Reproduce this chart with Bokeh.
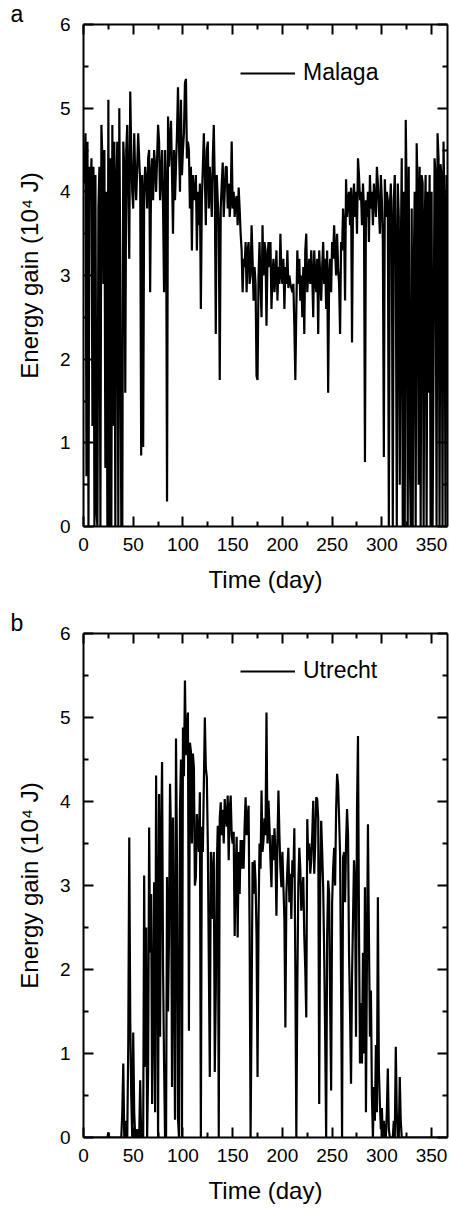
from bokeh.plotting import figure
from bokeh.layouts import column
from bokeh.models import LinearAxis, FixedTicker, Range1d
from bokeh.embed import file_html
from bokeh.resources import INLINE

DAYS = list(range(1, 366))

MALAGA = [
    4.1, 4.7, 0.6, 4.6, 0.0, 4.3, 3.9, 4.4, 1.2, 4.3,
    0.0, 4.2, 0.2, 0.0, 3.8, 4.3, 0.0, 4.8, 4.4, 2.9,
    4.5, 0.7, 4.0, 0.0, 5.1, 0.0, 4.4, 0.0, 4.8, 1.2,
    4.6, 0.0, 4.1, 4.6, 0.0, 5.0, 3.0, 0.0, 0.0, 4.6,
    4.3, 1.6, 4.5, 4.8, 4.0, 3.2, 5.2, 4.5, 4.0, 3.8,
    4.7, 4.2, 3.9, 4.3, 4.7, 4.4, 4.1, 0.85, 4.2, 0.95,
    4.0, 4.3, 4.1, 3.8, 4.4, 4.5, 2.8, 4.2, 4.4, 3.9,
    4.5, 4.3, 4.0, 4.4, 4.8, 4.6, 3.9, 4.2, 4.5, 3.8,
    2.8, 4.5, 4.1, 0.3, 4.9, 4.3, 4.6, 4.85, 4.2, 3.5,
    4.5, 3.9, 4.3, 4.7, 5.25, 4.6, 4.0, 5.1, 4.2, 4.5,
    4.7, 5.3, 5.35, 4.4, 4.6, 4.5, 3.8, 4.3, 3.3, 4.2,
    4.0, 3.9, 4.2, 3.3, 4.0, 3.6, 4.1, 2.6, 3.9, 4.3,
    4.7, 4.2, 3.6, 4.5, 4.6, 3.8, 4.3, 4.0, 3.7, 4.4,
    4.8, 4.1, 2.3, 4.2, 3.9, 3.6, 1.75, 3.8, 4.1, 4.35,
    3.7, 4.0, 4.3, 4.3, 3.8, 4.1, 3.7, 3.9, 4.6, 3.8,
    4.0, 3.7, 3.9, 3.95, 3.6, 4.05, 3.8, 3.5, 3.3, 2.8,
    3.2, 3.1, 3.4, 2.8, 3.3, 3.4, 2.9, 3.0, 3.6, 3.2,
    2.7, 3.1, 2.9, 1.8, 1.75, 3.0, 3.4, 2.9, 2.5, 3.6,
    3.0, 3.4, 3.3, 2.4, 3.2, 3.4, 3.1, 3.4, 2.6, 3.0,
    3.2, 2.8, 3.0, 3.3, 2.7, 3.1, 2.9, 3.5, 3.0, 2.9,
    3.2, 2.6, 3.1, 2.9, 3.3, 2.85, 3.0, 2.9, 2.85, 2.8,
    2.9, 2.4, 1.75, 2.6, 3.3, 2.9, 3.2, 2.7, 3.0, 2.5,
    3.1, 2.3, 3.3, 3.5, 2.8, 3.0, 3.2, 2.9, 3.3, 3.0,
    2.5, 3.3, 3.0, 2.8, 3.2, 2.3, 3.3, 3.0, 2.7, 3.1,
    3.4, 2.9, 3.2, 2.6, 3.3, 1.6, 3.0, 3.2, 2.8, 3.4,
    3.2, 3.6, 3.3, 3.0, 3.5, 3.1, 2.9, 2.3, 3.4, 3.3,
    3.8, 3.6, 2.7, 4.15, 3.7, 3.9, 4.0, 3.6, 4.05, 2.2,
    3.9, 4.1, 3.7, 4.0, 3.5, 4.4, 4.2, 3.9, 4.0, 3.6,
    4.1, 3.8, 0.77, 3.9, 3.7, 4.0, 3.4, 4.2, 3.8, 4.0,
    3.6, 4.1, 3.9, 3.7, 4.3, 4.1, 3.8, 3.5, 4.2, 3.9,
    3.4, 0.83, 4.15, 3.7, 4.0, 3.9, 0.0, 3.8, 4.1, 3.6,
    0.0, 3.9, 4.2, 3.3, 0.0, 4.1, 3.7, 0.5, 3.2, 4.4,
    0.0, 4.0, 0.0, 4.86, 3.9, 0.0, 4.3, 1.0, 0.0, 3.8,
    0.0, 3.0, 4.0, 0.0, 4.58, 4.0, 0.5, 4.3, 0.0, 4.2,
    4.1, 0.0, 3.6, 4.2, 0.0, 4.0, 1.6, 4.2, 0.0, 4.0,
    0.0, 2.0, 4.4, 4.2, 0.0, 4.7, 4.4, 0.0, 4.33, 4.2,
    0.0, 4.6, 3.7, 0.0, 4.2,
]

UTRECHT = [
    0.0, 0.0, 0.0, 0.0, 0.0, 0.0, 0.0, 0.0, 0.0, 0.0,
    0.0, 0.0, 0.0, 0.0, 0.0, 0.0, 0.0, 0.0, 0.0, 0.0,
    0.0, 0.0, 0.0, 0.0, 0.06, 0.0, 0.0, 0.0, 0.0, 0.0,
    0.0, 0.0, 0.0, 0.0, 0.0, 0.0, 0.0, 0.0, 0.3, 0.88,
    0.0, 0.2, 0.0, 0.0, 1.1, 3.57, 1.4, 0.5, 0.0, 1.25,
    0.3, 0.0, 0.0, 0.1, 0.0, 0.0, 0.68, 0.0, 0.2, 0.0,
    3.12, 0.84, 2.5, 0.0, 0.8, 3.69, 2.2, 2.9, 0.4, 1.5,
    3.04, 0.3, 4.31, 2.6, 0.0, 4.09, 1.2, 3.5, 4.47, 2.0,
    0.9, 0.0, 0.0, 3.1, 1.5, 2.4, 4.21, 3.6, 0.6, 3.81,
    2.1, 0.21, 4.75, 3.3, 0.24, 0.0, 3.9, 4.5, 0.0, 4.88,
    4.3, 5.44, 4.55, 4.8, 5.06, 1.27, 4.7, 4.6, 3.5, 4.57,
    4.4, 3.0, 3.1, 3.85, 3.6, 3.4, 4.11, 0.0, 3.7, 3.4,
    4.2, 5.0, 4.4, 4.29, 3.5, 2.1, 0.72, 3.4, 3.2, 2.6,
    3.4, 0.78, 1.7, 3.2, 3.71, 0.0, 3.8, 3.99, 3.6, 3.9,
    3.5, 4.03, 3.8, 3.7, 4.07, 3.3, 3.9, 4.07, 3.6, 3.5,
    3.64, 2.4, 3.2, 3.58, 2.38, 3.4, 2.9, 3.54, 3.2, 3.54,
    3.2, 3.7, 4.05, 3.6, 3.8, 3.95, 2.5, 0.0, 1.5, 3.28,
    2.9, 3.3, 3.06, 2.4, 0.72, 2.6, 3.5, 3.2, 4.13, 3.4,
    3.54, 3.8, 3.6, 5.06, 3.5, 4.01, 3.7, 3.3, 2.98, 3.6,
    3.3, 3.68, 3.4, 2.64, 3.5, 4.13, 3.6, 3.2, 2.98, 3.4,
    3.0, 2.6, 1.31, 2.9, 3.2, 3.45, 2.8, 3.14, 2.6, 3.3,
    3.1, 3.68, 2.0, 0.0, 1.8, 3.0, 3.45, 3.2, 2.7, 2.94,
    3.1, 2.4, 2.0, 1.43, 3.79, 3.3, 3.5, 3.14, 3.3, 3.6,
    4.01, 3.14, 3.5, 4.05, 4.03, 3.8, 0.4, 3.0, 3.77, 3.4,
    2.98, 2.2, 1.2, 0.0, 2.4, 3.06, 2.9, 1.6, 0.56, 2.8,
    3.2, 3.45, 3.0, 3.9, 4.33, 4.2, 3.8, 3.37, 1.8, 0.0,
    3.33, 3.4, 2.8, 3.5, 3.91, 3.6, 2.19, 1.5, 0.64, 1.9,
    2.6, 3.3, 3.02, 1.2, 3.9, 4.78, 2.5, 0.88, 1.6, 0.88,
    2.2, 1.0, 2.98, 0.3, 2.1, 3.73, 2.4, 1.2, 1.75, 0.5,
    0.0, 0.6, 0.2, 1.1, 0.3, 2.86, 0.8, 0.4, 0.1, 0.35,
    0.0, 0.2, 0.0, 0.0, 0.3, 0.82, 0.1, 0.0, 0.0, 0.0,
    0.0, 0.2, 0.0, 1.08, 0.3, 0.0, 0.0, 0.72, 0.2, 0.0,
    0.0, 0.0, 0.0, 0.0, 0.0, 0.0, 0.0, 0.0, 0.0, 0.0,
    0.0, 0.0, 0.0, 0.0, 0.0, 0.0, 0.0, 0.0, 0.0, 0.0,
    0.0, 0.0, 0.0, 0.0, 0.0, 0.0, 0.0, 0.0, 0.0, 0.0,
    0.0, 0.0, 0.0, 0.0, 0.0, 0.0, 0.0, 0.0, 0.0, 0.0,
    0.0, 0.0, 0.0, 0.0, 0.0,
]

X_MAJOR = [0, 50, 100, 150, 200, 250, 300, 350]
X_MINOR = [25, 75, 125, 175, 225, 275, 325]
Y_MAJOR = [0, 1, 2, 3, 4, 5, 6]
Y_MINOR = [0.5, 1.5, 2.5, 3.5, 4.5, 5.5]

X_LABEL = "Time (day)"
Y_LABEL = "Energy gain (10\u2074 J)"
FONT = "Liberation Sans"


def style_axis(ax):
    ax.axis_line_color = "black"
    ax.axis_line_width = 2
    ax.major_tick_line_color = "black"
    ax.major_tick_line_width = 2
    ax.minor_tick_line_color = "black"
    ax.minor_tick_line_width = 2
    ax.major_tick_in = 10
    ax.major_tick_out = 0
    ax.minor_tick_in = 5
    ax.minor_tick_out = 0
    ax.major_label_text_font = FONT
    ax.major_label_text_font_size = "19px"
    ax.major_label_text_color = "black"
    ax.axis_label_text_font = FONT
    ax.axis_label_text_font_size = "24px"
    ax.axis_label_text_font_style = "normal"
    ax.axis_label_text_color = "black"


def tick_only_axis(positions, length, with_line):
    # axis carrying only (unlabelled) ticks, drawn as minor ticks
    ax = LinearAxis(ticker=FixedTicker(ticks=[], minor_ticks=positions))
    ax.axis_line_color = "black" if with_line else None
    ax.axis_line_width = 2
    ax.minor_tick_line_color = "black"
    ax.minor_tick_line_width = 2
    ax.minor_tick_in = length
    ax.minor_tick_out = 0
    ax.major_tick_in = 0
    ax.major_tick_out = 0
    ax.major_label_standoff = 0
    return ax


def make_panel(values, name, letter, height, top, bottom, legend_bottom):
    p = figure(width=449, height=height, output_backend="svg",
               toolbar_location=None,
               x_range=Range1d(0, 366), y_range=Range1d(0, 6),
               min_border_left=83, min_border_right=2,
               min_border_top=top, min_border_bottom=bottom,
               x_axis_label=X_LABEL, y_axis_label=Y_LABEL)
    p.grid.visible = False
    p.outline_line_color = None
    p.background_fill_color = "white"
    p.border_fill_color = "white"

    p.line(DAYS, values, line_color="black", line_width=2.2, legend_label=name)

    p.xaxis.ticker = FixedTicker(ticks=X_MAJOR, minor_ticks=X_MINOR)
    p.yaxis.ticker = FixedTicker(ticks=Y_MAJOR, minor_ticks=Y_MINOR)
    for ax in p.xaxis:
        style_axis(ax)
        ax.major_label_standoff = 11
        ax.axis_label_standoff = 12
    for ax in p.yaxis:
        style_axis(ax)
        ax.major_label_standoff = 13
        ax.axis_label_standoff = 14

    p.add_layout(tick_only_axis(X_MAJOR, 10, True), "above")
    p.add_layout(tick_only_axis(X_MINOR, 5, False), "above")
    p.add_layout(tick_only_axis(Y_MAJOR, 10, True), "right")
    p.add_layout(tick_only_axis(Y_MINOR, 5, False), "right")

    lg = p.legend[0]
    lg.location = (157, legend_bottom)
    lg.border_line_color = None
    lg.background_fill_alpha = 0
    lg.padding = 0
    lg.margin = 0
    lg.glyph_width = 55
    lg.glyph_height = 24
    lg.label_height = 24
    lg.label_standoff = 8
    lg.label_text_font = FONT
    lg.label_text_font_size = "23px"
    lg.label_text_color = "black"

    p.title.text = letter
    p.title.align = "left"
    p.title.offset = -73
    p.title.standoff = -4
    p.title.text_font = FONT
    p.title.text_font_size = "23px"
    p.title.text_font_style = "normal"
    p.title.text_color = "black"
    return p


pa = make_panel(MALAGA, "Malaga", "a", 600, 23, 74, 440)
pb = make_panel(UTRECHT, "Utrecht", "b", 608, 33, 71, 453)

layout = column(pa, pb, spacing=0)
open("out.html", "w").write(file_html(layout, INLINE))
